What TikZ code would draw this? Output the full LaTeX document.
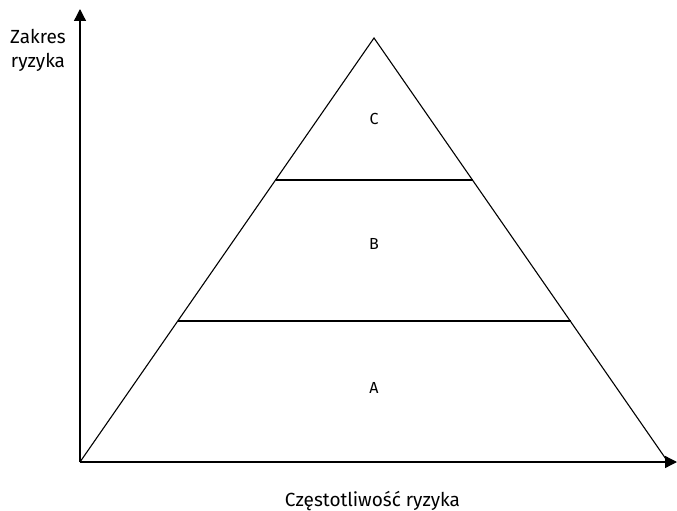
\documentclass[tikz,border=0pt]{standalone}
\usepackage{fontspec}
\setmainfont{Fira Sans}
\usetikzlibrary{arrows.meta}
\begin{document}
\begin{tikzpicture}[x=1pt,y=-1pt,
  axis/.style={line width=1.3pt,-{Triangle[length=12pt,width=12pt]}},
  edge/.style={line width=1.1pt},
  lbl/.style={font=\fontsize{16}{18}\selectfont, inner sep=0pt, anchor=base},
  axlbl/.style={font=\fontsize{19}{23}\selectfont, inner sep=0pt, anchor=base}]
\useasboundingbox (0,0) rectangle (677,511);
\coordinate (O) at (80,462);
\coordinate (Ytip) at (80,9);
\coordinate (Xtip) at (677,462);
\coordinate (T) at (374,38);
\coordinate (R) at (668,462);
\draw[axis] (O) -- (Ytip);
\draw[axis] (O) -- (Xtip);
\draw[edge] (O) -- (T) -- (R);
\coordinate (BL) at (275.5,180);
\coordinate (BR) at (472.5,180);
\coordinate (AL) at (177.5,321);
\coordinate (AR) at (570.5,321);
\draw[edge] (BL) -- (BR);
\draw[edge] (AL) -- (AR);
\node[lbl] (c) at (374,124) {C};
\node[lbl] (b) at (374,249) {B};
\node[lbl] (a) at (374,393) {A};
\node[axlbl] (yl1) at (38,44) {Zakres};
\node[axlbl] (yl2) at (38,67) {ryzyka};
\node[axlbl] (xl) at (372.5,506) {Częstotliwość ryzyka};
\end{tikzpicture}
\end{document}
